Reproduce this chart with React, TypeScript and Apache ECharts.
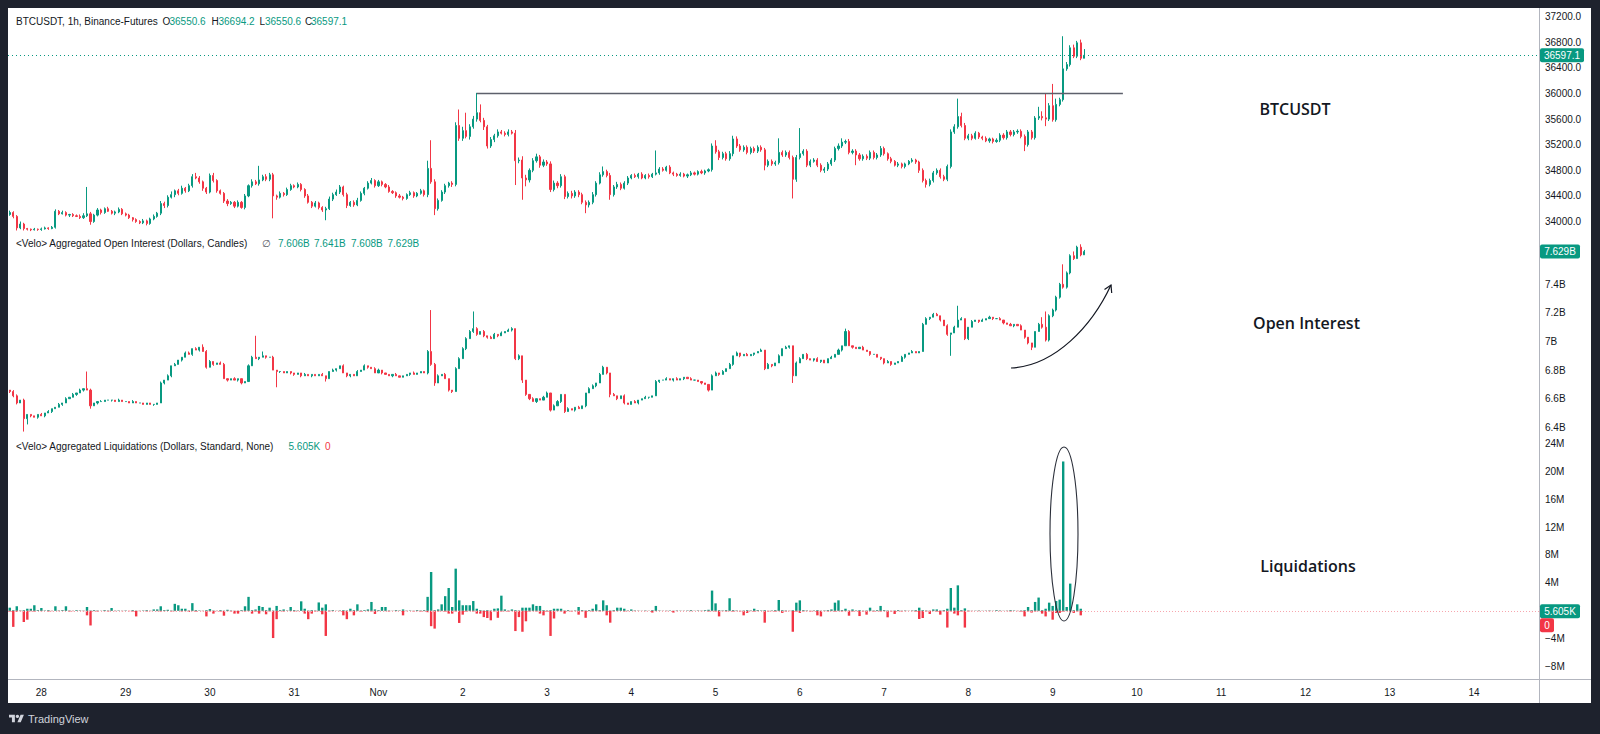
import React, { useEffect, useRef } from "react";
import * as echarts from "echarts";

// ---------- time axis ----------
const FIRST_HOUR_UTC = Date.UTC(2023, 9, 27, 15); // first hourly candle
const SLOT_COUNT = 436; // hourly slots shown on the time axis (to Nov 14)
const MONTHS = ["Jan", "Feb", "Mar", "Apr", "May", "Jun", "Jul", "Aug", "Sep", "Oct", "Nov", "Dec"];

// ---------- BTCUSDT hourly closes (open = previous close) ----------
const PRICE_OPEN_FIRST = 34110;
const P_OCT27 = [34140, 34080, 33900, 33960, 33890, 33880, 33870, 33880, 33875];
const P_OCT28 = [33885, 33900, 33890, 33910, 34160, 34120, 34140, 34100, 34110, 34090, 34080, 34060, 34090, 34120, 34000, 34100, 34180, 34140, 34200, 34160, 34130, 34150, 34190, 34120];
const P_OCT29 = [34100, 34060, 34030, 34000, 33980, 34010, 33970, 34040, 34080, 34130, 34280, 34250, 34380, 34420, 34480, 34440, 34520, 34480, 34560, 34700, 34680, 34620, 34520, 34460];
const P_OCT30 = [34720, 34640, 34480, 34440, 34320, 34280, 34300, 34240, 34300, 34220, 34400, 34560, 34620, 34590, 34650, 34700, 34660, 34730, 34400, 34380, 34440, 34420, 34500, 34560];
const P_OCT31 = [34540, 34580, 34500, 34400, 34300, 34240, 34290, 34220, 34180, 34200, 34350, 34420, 34460, 34540, 34420, 34250, 34300, 34260, 34330, 34440, 34520, 34600, 34640, 34560];
const P_NOV1 = [34620, 34580, 34540, 34470, 34450, 34400, 34380, 34360, 34420, 34450, 34400, 34440, 34480, 34420, 34830, 34620, 34200, 34330, 34460, 34560, 34600, 34580, 35500, 35300];
const P_NOV2 = [35420, 35330, 35480, 35600, 35700, 35580, 35480, 35180, 35280, 35340, 35400, 35380, 35360, 35400, 35380, 34950, 34960, 34680, 34650, 34800, 34950, 35010, 34880, 34930];
const P_NOV3 = [34900, 34500, 34600, 34560, 34700, 34390, 34440, 34400, 34460, 34420, 34300, 34260, 34300, 34420, 34600, 34730, 34780, 34720, 34420, 34540, 34580, 34520, 34600, 34680];
const P_NOV4 = [34720, 34700, 34740, 34680, 34720, 34700, 34740, 34760, 34820, 34800, 34850, 34760, 34740, 34720, 34740, 34710, 34730, 34760, 34740, 34780, 34760, 34790, 34810, 35180];
const P_NOV5 = [35090, 35000, 35060, 34980, 35060, 35290, 35180, 35120, 35160, 35080, 35140, 35100, 35160, 35120, 34880, 34940, 34900, 34920, 35080, 35040, 35080, 35000, 34660, 35000];
const P_NOV6 = [35060, 35100, 34880, 34940, 34960, 34880, 34800, 34820, 34900, 34960, 35140, 35180, 35240, 35250, 35080, 35100, 35040, 34980, 35020, 34990, 35080, 35000, 35040, 35140];
const P_NOV7 = [35060, 34980, 34940, 34880, 34900, 34860, 34900, 34940, 34960, 34930, 34800, 34640, 34580, 34640, 34760, 34800, 34700, 34660, 34860, 35400, 35480, 35640, 35500, 35300];
const P_NOV8 = [35340, 35300, 35380, 35320, 35300, 35260, 35290, 35250, 35270, 35350, 35310, 35400, 35360, 35400, 35410, 35330, 35200, 35400, 35310, 35617, 35642, 35620, 35600, 35810];
const P_NOV9 = [35590, 35830, 35904, 36385, 36452, 36714, 36583, 36792, 36550.6, 36597.1];

// upper / lower wick length, in $10 units
const PU_OCT27 = [3, 2, 2, 4, 2, 1, 1, 2, 1];
const PU_OCT28 = [2, 2, 1, 2, 3, 2, 3, 2, 1, 2, 2, 3, 4, 42, 3, 2, 3, 2, 2, 3, 2, 2, 3, 2];
const PU_OCT29 = [2, 2, 1, 2, 2, 3, 2, 2, 3, 2, 4, 3, 3, 5, 2, 3, 4, 2, 3, 4, 6, 3, 2, 2];
const PU_OCT30 = [3, 4, 2, 2, 2, 3, 2, 2, 3, 2, 3, 2, 4, 3, 22, 3, 4, 3, 3, 2, 3, 2, 3, 3];
const PU_OCT31 = [2, 3, 2, 2, 3, 2, 3, 2, 2, 3, 4, 3, 4, 3, 2, 3, 2, 3, 4, 3, 2, 3, 4, 2];
const PU_NOV1 = [3, 2, 2, 3, 2, 2, 3, 2, 2, 3, 2, 2, 3, 2, 12, 44, 4, 3, 3, 3, 2, 3, 5, 25];
const PU_NOV2 = [6, 28, 4, 5, 31, 13, 4, 3, 4, 3, 4, 3, 3, 4, 3, 5, 4, 6, 5, 3, 4, 5, 3, 4];
const PU_NOV3 = [3, 4, 4, 3, 4, 3, 3, 4, 3, 3, 3, 3, 3, 4, 3, 4, 8, 3, 4, 3, 4, 3, 3, 3];
const PU_NOV4 = [2, 3, 2, 3, 2, 3, 2, 35, 3, 3, 2, 3, 2, 2, 3, 2, 2, 3, 2, 2, 3, 2, 2, 4];
const PU_NOV5 = [9, 3, 3, 3, 4, 5, 4, 3, 3, 3, 3, 3, 3, 3, 3, 3, 3, 3, 22, 3, 3, 3, 3, 4];
const PU_NOV6 = [40, 3, 3, 3, 3, 3, 3, 3, 3, 3, 3, 4, 6, 3, 4, 3, 3, 3, 3, 3, 3, 3, 3, 4];
const PU_NOV7 = [3, 2, 3, 2, 3, 2, 2, 2, 3, 2, 2, 3, 3, 3, 3, 3, 3, 3, 3, 4, 4, 28, 6, 4];
const PU_NOV8 = [3, 3, 3, 2, 2, 3, 2, 2, 3, 3, 3, 3, 3, 3, 3, 3, 3, 3, 3, 3, 15, 8, 38, 4];
const PU_NOV9 = [34, 9, 3, 51, 4, 4, 5, 3, 5, 9.71];

const PD_OCT27 = [2, 3, 4, 2, 3, 2, 2, 1, 2];
const PD_OCT28 = [2, 1, 2, 1, 2, 2, 1, 2, 3, 2, 1, 2, 2, 2, 5, 2, 2, 3, 2, 1, 2, 3, 2, 2];
const PD_OCT29 = [2, 2, 3, 2, 2, 2, 3, 2, 2, 2, 3, 4, 3, 2, 4, 3, 2, 3, 2, 3, 2, 3, 4, 3];
const PD_OCT30 = [2, 3, 3, 2, 3, 4, 2, 3, 2, 2, 3, 2, 3, 2, 3, 2, 3, 3, 35, 4, 2, 3, 2, 2];
const PD_OCT31 = [2, 2, 3, 3, 2, 3, 2, 3, 3, 16, 2, 3, 2, 3, 3, 4, 2, 3, 2, 2, 3, 2, 2, 3];
const PD_NOV1 = [2, 3, 2, 2, 2, 3, 2, 3, 2, 2, 3, 2, 2, 3, 4, 3, 10, 3, 2, 3, 3, 4, 3, 4];
const PD_NOV2 = [4, 3, 5, 3, 4, 3, 5, 4, 3, 4, 3, 2, 3, 3, 2, 38, 4, 34, 10, 4, 3, 3, 4, 3];
const PD_NOV3 = [3, 4, 3, 4, 3, 4, 3, 4, 3, 4, 3, 13, 4, 3, 3, 2, 3, 3, 8, 3, 3, 3, 2, 3];
const PD_NOV4 = [2, 2, 3, 2, 2, 3, 2, 2, 3, 2, 2, 2, 3, 2, 2, 2, 3, 2, 2, 2, 2, 3, 2, 3];
const PD_NOV5 = [3, 4, 3, 3, 3, 4, 3, 3, 3, 3, 3, 3, 3, 3, 8, 3, 3, 3, 3, 3, 3, 3, 30, 4];
const PD_NOV6 = [3, 3, 3, 3, 2, 3, 3, 4, 3, 3, 3, 3, 3, 3, 3, 3, 16, 3, 3, 3, 3, 3, 3, 3];
const PD_NOV7 = [3, 3, 3, 2, 3, 3, 3, 2, 2, 3, 4, 3, 5, 3, 3, 3, 3, 3, 3, 3, 3, 3, 3, 3];
const PD_NOV8 = [3, 3, 2, 3, 3, 2, 3, 3, 2, 3, 3, 3, 3, 3, 3, 3, 10, 3, 3, 3, 3, 4, 11, 3];
const PD_NOV9 = [3, 3, 3, 3, 3, 3, 3, 3, 3, 0];

// ---------- Aggregated open interest, hourly closes (billion $) ----------
const OI_OPEN_FIRST = 6.66;
const OI_OCT27 = [6.65, 6.62, 6.57, 6.59, 6.46, 6.49, 6.48, 6.47, 6.49];
const OI_OCT28 = [6.48, 6.5, 6.51, 6.53, 6.54, 6.56, 6.57, 6.6, 6.61, 6.63, 6.64, 6.66, 6.67, 6.66, 6.55, 6.57, 6.58, 6.58, 6.59, 6.59, 6.59, 6.58, 6.59, 6.58];
const OI_OCT29 = [6.58, 6.57, 6.58, 6.57, 6.57, 6.56, 6.57, 6.56, 6.56, 6.57, 6.71, 6.73, 6.76, 6.83, 6.84, 6.87, 6.89, 6.92, 6.91, 6.95, 6.94, 6.96, 6.93, 6.82];
const OI_OCT30 = [6.86, 6.84, 6.85, 6.84, 6.74, 6.73, 6.74, 6.73, 6.74, 6.71, 6.72, 6.83, 6.89, 6.88, 6.89, 6.9, 6.89, 6.89, 6.8, 6.79, 6.79, 6.78, 6.79, 6.78];
const OI_OCT31 = [6.77, 6.78, 6.76, 6.77, 6.76, 6.77, 6.76, 6.77, 6.76, 6.74, 6.79, 6.8, 6.81, 6.83, 6.78, 6.76, 6.77, 6.76, 6.79, 6.8, 6.83, 6.82, 6.81, 6.78];
const OI_NOV1 = [6.8, 6.78, 6.77, 6.76, 6.77, 6.76, 6.75, 6.76, 6.77, 6.78, 6.77, 6.78, 6.79, 6.78, 6.93, 6.84, 6.71, 6.76, 6.77, 6.74, 6.66, 6.65, 6.81, 6.88];
const OI_NOV2 = [6.95, 7.02, 7.07, 7.09, 7.05, 7.07, 7.04, 7.03, 7.02, 7.05, 7.04, 7.06, 7.07, 7.08, 7.09, 6.88, 6.9, 6.73, 6.63, 6.6, 6.58, 6.6, 6.59, 6.61];
const OI_NOV3 = [6.64, 6.52, 6.55, 6.58, 6.63, 6.51, 6.53, 6.52, 6.54, 6.53, 6.55, 6.64, 6.67, 6.69, 6.71, 6.77, 6.82, 6.78, 6.63, 6.62, 6.6, 6.62, 6.57, 6.56];
const OI_NOV4 = [6.58, 6.57, 6.59, 6.6, 6.61, 6.61, 6.62, 6.72, 6.73, 6.73, 6.74, 6.73, 6.74, 6.73, 6.74, 6.75, 6.74, 6.73, 6.73, 6.72, 6.71, 6.7, 6.66, 6.76];
const OI_NOV5 = [6.78, 6.77, 6.79, 6.81, 6.84, 6.9, 6.92, 6.9, 6.91, 6.9, 6.91, 6.92, 6.93, 6.94, 6.81, 6.84, 6.83, 6.85, 6.9, 6.95, 6.96, 6.97, 6.76, 6.85];
const OI_NOV6 = [6.88, 6.91, 6.88, 6.87, 6.88, 6.86, 6.87, 6.85, 6.88, 6.89, 6.91, 6.94, 6.97, 7.07, 6.97, 6.96, 6.95, 6.96, 6.94, 6.93, 6.91, 6.91, 6.89, 6.88];
const OI_NOV7 = [6.85, 6.86, 6.84, 6.85, 6.86, 6.89, 6.91, 6.92, 6.93, 6.92, 6.93, 7.12, 7.16, 7.17, 7.19, 7.18, 7.15, 7.11, 7.05, 7.06, 7.1, 7.15, 7.16, 7.02];
const OI_NOV8 = [7.1, 7.14, 7.15, 7.14, 7.15, 7.16, 7.17, 7.16, 7.16, 7.15, 7.13, 7.12, 7.11, 7.12, 7.11, 7.08, 7.03, 6.99, 6.96, 7.07, 7.12, 7.1, 7.01, 7.18];
const OI_NOV9 = [7.22, 7.31, 7.4, 7.38, 7.48, 7.6, 7.58, 7.66, 7.606, 7.629];

// OI wick lengths, in 0.01B units
const OU_OCT27 = [0, 1, 1, 0, 1, 0, 0, 0, 0];
const OU_OCT28 = [1, 0, 1, 0, 0, 1, 0, 1, 0, 1, 0, 1, 0, 12, 1, 0, 0, 1, 0, 0, 0, 0, 1, 0];
const OU_OCT29 = [0, 0, 1, 0, 0, 0, 0, 0, 0, 0, 1, 0, 1, 0, 1, 0, 0, 1, 1, 0, 1, 0, 2, 1];
const OU_OCT30 = [1, 0, 0, 1, 1, 0, 0, 1, 0, 0, 0, 1, 1, 15, 0, 3, 0, 0, 1, 0, 0, 0, 0, 0];
const OU_OCT31 = [0, 0, 0, 1, 0, 0, 0, 0, 1, 0, 0, 1, 0, 0, 1, 0, 0, 0, 1, 0, 1, 0, 0, 1];
const OU_NOV1 = [1, 0, 0, 0, 0, 1, 0, 0, 0, 0, 1, 0, 0, 0, 1, 29, 1, 1, 0, 1, 0, 0, 1, 1];
const OU_NOV2 = [1, 1, 1, 12, 1, 0, 1, 0, 1, 1, 0, 1, 0, 1, 1, 0, 1, 0, 0, 0, 1, 0, 0, 1];
const OU_NOV3 = [1, 0, 1, 1, 0, 0, 1, 0, 0, 1, 0, 0, 1, 1, 0, 1, 1, 0, 0, 1, 0, 0, 1, 0];
const OU_NOV4 = [0, 1, 0, 0, 1, 0, 0, 1, 0, 0, 1, 0, 0, 1, 0, 0, 0, 1, 0, 0, 0, 0, 0, 1];
const OU_NOV5 = [1, 0, 1, 0, 1, 0, 1, 0, 0, 1, 0, 0, 0, 1, 0, 1, 0, 0, 1, 0, 1, 0, 0, 1];
const OU_NOV6 = [1, 0, 1, 0, 0, 1, 0, 0, 0, 1, 0, 1, 0, 2, 1, 0, 0, 0, 1, 0, 0, 0, 0, 0];
const OU_NOV7 = [0, 1, 0, 0, 0, 1, 0, 0, 1, 0, 0, 1, 1, 0, 1, 1, 0, 0, 1, 0, 1, 10, 1, 0];
const OU_NOV8 = [0, 1, 0, 0, 1, 0, 1, 0, 0, 1, 0, 0, 1, 0, 0, 1, 0, 0, 0, 0, 1, 5, 11, 1];
const OU_NOV9 = [1, 1, 1, 14, 1, 1, 3, 1, 2, 1.2];

const OD_OCT27 = [1, 1, 1, 0, 9, 4, 1, 0, 1];
const OD_OCT28 = [0, 1, 0, 1, 0, 0, 1, 0, 0, 0, 1, 0, 1, 0, 2, 0, 1, 0, 0, 0, 1, 0, 0, 0];
const OD_OCT29 = [0, 0, 0, 0, 0, 0, 0, 0, 1, 0, 0, 1, 0, 1, 0, 0, 1, 0, 0, 1, 0, 1, 0, 1];
const OD_OCT30 = [0, 1, 0, 0, 0, 1, 0, 0, 1, 1, 0, 0, 0, 0, 1, 0, 1, 0, 0, 11, 1, 0, 0, 1];
const OD_OCT31 = [1, 0, 1, 0, 0, 1, 0, 0, 0, 2, 0, 0, 1, 0, 0, 1, 1, 0, 0, 0, 0, 1, 0, 0];
const OD_NOV1 = [0, 1, 0, 0, 1, 0, 0, 0, 0, 1, 0, 0, 0, 0, 1, 1, 2, 0, 0, 0, 1, 1, 0, 0];
const OD_NOV2 = [0, 1, 0, 1, 1, 0, 1, 1, 0, 0, 1, 0, 0, 0, 1, 1, 1, 2, 1, 1, 0, 1, 0, 0];
const OD_NOV3 = [0, 1, 0, 0, 1, 1, 0, 0, 1, 0, 0, 1, 0, 0, 1, 0, 0, 1, 2, 0, 1, 0, 1, 0];
const OD_NOV4 = [0, 0, 1, 0, 0, 1, 0, 0, 1, 0, 0, 0, 1, 0, 0, 1, 0, 0, 0, 0, 1, 0, 1, 0];
const OD_NOV5 = [0, 1, 0, 0, 0, 1, 0, 1, 0, 0, 0, 1, 0, 0, 1, 0, 1, 0, 0, 0, 0, 1, 5, 0];
const OD_NOV6 = [0, 0, 1, 0, 1, 0, 1, 0, 0, 0, 0, 0, 1, 0, 0, 1, 0, 0, 0, 0, 1, 0, 0, 1];
const OD_NOV7 = [1, 0, 1, 0, 0, 0, 1, 0, 0, 0, 0, 0, 0, 1, 0, 0, 1, 0, 1, 15, 0, 0, 0, 1];
const OD_NOV8 = [1, 0, 0, 1, 0, 0, 0, 1, 0, 0, 1, 0, 0, 1, 0, 0, 1, 1, 2, 0, 0, 1, 1, 1];
const OD_NOV9 = [1, 1, 1, 1, 1, 1, 1, 0, 1, 0];

// ---------- Aggregated liquidations (million $), up = green, down = red ----------
const LG_OCT27 = [0.45, 0.1, 0.65, 0.05, 0.1, 0.3, 0.3, 0.8, 0.1];
const LG_OCT28 = [0.4, 0.05, 0.1, 0.02, 0.65, 0.05, 0.1, 0.65, 0.05, 0.02, 0.1, 0.05, 0.03, 0.55, 0.05, 0.1, 0.05, 0.02, 0.1, 0.05, 0.4, 0.03, 0.05, 0.02];
const LG_OCT29 = [0.05, 0.02, 0.1, 0.03, 0.02, 0.05, 0.1, 0.02, 0.2, 0.2, 0.65, 0.1, 0.15, 0.05, 1.0, 0.8, 0.3, 0.3, 0.05, 1.1, 0.1, 0.05, 0.02, 0.1];
const LG_OCT30 = [0.25, 0.05, 0.02, 0.1, 0.03, 0.15, 0.05, 0.02, 0.03, 0.1, 0.65, 2.0, 0.1, 0.2, 0.7, 0.55, 0.1, 0.45, 0.05, 0.7, 0.1, 0.2, 0.05, 0.55];
const LG_OCT31 = [0.1, 0.05, 1.36, 0.3, 0.05, 0.1, 0.05, 1.2, 0.45, 0.93, 0.05, 0.1, 0.02, 0.05, 0.1, 0.05, 0.3, 0.1, 0.93, 0.05, 0.1, 0.2, 1.27, 0.2];
const LG_NOV1 = [0.1, 0.55, 0.55, 0.05, 0.02, 0.1, 0.05, 0.2, 0.03, 0.05, 0.02, 0.1, 0.05, 0.1, 2.0, 5.56, 0.1, 0.2, 0.93, 2.1, 3.27, 0.55, 6.04, 1.5];
const LG_NOV2 = [0.8, 0.8, 0.8, 1.4, 0.3, 0.1, 0.05, 0.1, 0.05, 0.3, 0.35, 2.17, 0.2, 0.05, 0.2, 0.1, 0.05, 0.45, 0.45, 0.45, 0.93, 0.7, 0.7, 0.1];
const LG_NOV3 = [0.05, 0.1, 0.3, 0.3, 0.3, 0.05, 0.1, 0.02, 0.05, 0.55, 0.1, 0.05, 0.1, 0.3, 0.93, 0.1, 1.5, 0.8, 0.05, 0.1, 0.45, 0.45, 0.3, 0.05];
const LG_NOV4 = [0.2, 0.05, 0.03, 0.02, 0.05, 0.02, 0.1, 0.7, 0.05, 0.02, 0.03, 0.05, 0.02, 0.05, 0.03, 0.02, 0.05, 0.1, 0.02, 0.05, 0.03, 0.1, 0.15, 2.9];
const LG_NOV5 = [1.07, 0.1, 0.05, 0.1, 1.8, 0.1, 0.05, 0.02, 0.05, 0.1, 0.05, 0.3, 0.1, 0.05, 0.1, 0.02, 0.05, 0.1, 1.55, 0.1, 0.05, 0.02, 0.1, 1.17];
const LG_NOV6 = [1.5, 0.1, 0.05, 0.02, 0.05, 0.1, 0.03, 0.05, 0.1, 0.2, 1.17, 1.5, 0.1, 0.3, 0.05, 0.2, 0.05, 0.1, 0.03, 0.05, 0.45, 0.05, 0.1, 0.7];
const LG_NOV7 = [0.1, 0.05, 0.02, 0.05, 0.1, 0.03, 0.05, 0.02, 0.05, 0.1, 0.45, 0.1, 0.05, 0.03, 0.2, 0.2, 0.05, 0.1, 0.3, 3.27, 0.45, 3.65, 0.1, 0.35];
const LG_NOV8 = [0.05, 0.02, 0.03, 0.05, 0.02, 0.03, 0.05, 0.02, 0.1, 0.05, 0.02, 0.03, 0.1, 0.05, 0.02, 0.05, 0.1, 0.55, 0.1, 1.27, 1.9, 0.1, 0.3, 1.17];
const LG_NOV9 = [0.7, 1.4, 1.6, 21.4, 0.55, 3.9, 0.1, 0.93, 0.3, 0.005605];

const LR_OCT27 = [0.1, 2.3, 0.15, 0.05, 1.6, 1.27, 0.05, 0.1, 0.02];
const LR_OCT28 = [0.05, 0.02, 0.1, 0.05, 0.02, 0.05, 0.03, 0.02, 0.1, 0.05, 0.02, 0.03, 0.05, 0.65, 2.1, 0.05, 0.1, 0.02, 0.05, 0.1, 0.03, 0.05, 0.02, 0.05];
const LR_OCT29 = [0.02, 0.05, 0.1, 0.8, 0.05, 0.02, 0.1, 0.05, 0.02, 0.05, 0.1, 0.05, 0.02, 0.1, 0.05, 0.02, 0.1, 0.05, 0.15, 0.05, 0.1, 0.02, 0.05, 0.8];
const LR_OCT30 = [0.1, 0.4, 0.05, 0.1, 0.7, 0.05, 0.1, 0.4, 0.4, 0.05, 0.1, 0.05, 0.4, 0.1, 0.4, 0.05, 0.5, 0.1, 3.9, 1.2, 0.05, 0.1, 0.02, 0.05];
const LR_OCT31 = [0.1, 0.05, 0.02, 0.4, 1.2, 0.4, 0.1, 0.05, 0.5, 3.6, 0.1, 0.05, 0.02, 0.05, 0.65, 1.2, 0.1, 0.65, 0.05, 0.1, 0.02, 0.05, 0.1, 0.45];
const LR_NOV1 = [0.05, 0.02, 0.05, 0.1, 0.02, 0.05, 0.03, 0.65, 0.05, 0.02, 0.1, 0.05, 0.1, 0.05, 0.2, 2.2, 2.55, 0.1, 0.05, 0.1, 0.4, 0.4, 0.1, 1.74];
const LR_NOV2 = [0.55, 0.1, 0.05, 0.1, 0.4, 0.4, 0.9, 1.03, 1.36, 0.1, 1.0, 0.1, 0.05, 0.1, 0.05, 2.9, 0.9, 3.0, 1.5, 0.1, 0.05, 0.1, 0.4, 0.65];
const LR_NOV3 = [0.1, 3.6, 1.1, 0.05, 0.1, 0.4, 0.05, 0.1, 0.05, 0.55, 0.1, 1.0, 0.05, 0.1, 0.05, 0.1, 0.05, 0.65, 1.7, 0.1, 0.05, 0.02, 0.1, 0.05];
const LR_NOV4 = [0.02, 0.05, 0.03, 0.02, 0.05, 0.02, 0.25, 0.05, 0.02, 0.03, 0.05, 0.02, 0.25, 0.05, 0.02, 0.03, 0.02, 0.05, 0.02, 0.03, 0.05, 0.02, 0.1, 0.05];
const LR_NOV5 = [0.1, 0.8, 0.05, 0.1, 0.05, 0.1, 0.05, 0.1, 0.65, 0.3, 0.05, 0.1, 0.05, 0.02, 1.7, 0.1, 0.05, 0.1, 0.05, 0.3, 0.1, 0.05, 3.0, 0.1];
const LR_NOV6 = [0.3, 0.1, 0.05, 0.1, 0.05, 0.65, 0.8, 0.05, 0.1, 0.05, 0.1, 0.05, 0.1, 0.05, 0.7, 0.1, 0.05, 0.75, 0.1, 0.55, 0.05, 0.1, 0.05, 0.1];
const LR_NOV7 = [0.05, 0.93, 0.1, 0.45, 0.05, 0.1, 0.05, 0.02, 0.05, 0.1, 1.17, 1.03, 0.1, 0.45, 0.05, 0.1, 0.55, 0.1, 2.4, 0.1, 0.4, 0.65, 0.1, 2.4];
const LR_NOV8 = [0.1, 0.05, 0.02, 0.05, 0.02, 0.03, 0.05, 0.02, 0.03, 0.05, 0.02, 0.05, 0.1, 0.02, 0.05, 0.1, 0.8, 0.1, 0.25, 0.1, 0.05, 0.4, 0.8, 0.1];
const LR_NOV9 = [1.27, 0.3, 0.3, 0.1, 0.05, 0.1, 0.3, 0.1, 0.65, 0];

// ---------- axis ticks & annotations ----------
const PRICE_TICKS = [34000, 34400, 34800, 35200, 35600, 36000, 36400, 36800, 37200];
const OI_TICKS = [6.4, 6.6, 6.8, 7.0, 7.2, 7.4];
const LIQ_TICKS = [-8, -4, 4, 8, 12, 16, 20, 24];
const LEVEL_PRICE = 36000;
const LEVEL_FROM_SLOT = 133;
const LEVEL_TO_SLOT = 317;
const LAST_PRICE = 36597.1;
const LAST_OI = 7.629;

const priceCloses = [P_OCT27, P_OCT28, P_OCT29, P_OCT30, P_OCT31, P_NOV1, P_NOV2, P_NOV3, P_NOV4, P_NOV5, P_NOV6, P_NOV7, P_NOV8, P_NOV9].flat();
const priceUp = [PU_OCT27, PU_OCT28, PU_OCT29, PU_OCT30, PU_OCT31, PU_NOV1, PU_NOV2, PU_NOV3, PU_NOV4, PU_NOV5, PU_NOV6, PU_NOV7, PU_NOV8, PU_NOV9].flat();
const priceDn = [PD_OCT27, PD_OCT28, PD_OCT29, PD_OCT30, PD_OCT31, PD_NOV1, PD_NOV2, PD_NOV3, PD_NOV4, PD_NOV5, PD_NOV6, PD_NOV7, PD_NOV8, PD_NOV9].flat();
const oiCloses = [OI_OCT27, OI_OCT28, OI_OCT29, OI_OCT30, OI_OCT31, OI_NOV1, OI_NOV2, OI_NOV3, OI_NOV4, OI_NOV5, OI_NOV6, OI_NOV7, OI_NOV8, OI_NOV9].flat();
const oiUp = [OU_OCT27, OU_OCT28, OU_OCT29, OU_OCT30, OU_OCT31, OU_NOV1, OU_NOV2, OU_NOV3, OU_NOV4, OU_NOV5, OU_NOV6, OU_NOV7, OU_NOV8, OU_NOV9].flat();
const oiDn = [OD_OCT27, OD_OCT28, OD_OCT29, OD_OCT30, OD_OCT31, OD_NOV1, OD_NOV2, OD_NOV3, OD_NOV4, OD_NOV5, OD_NOV6, OD_NOV7, OD_NOV8, OD_NOV9].flat();
const liqUp = [LG_OCT27, LG_OCT28, LG_OCT29, LG_OCT30, LG_OCT31, LG_NOV1, LG_NOV2, LG_NOV3, LG_NOV4, LG_NOV5, LG_NOV6, LG_NOV7, LG_NOV8, LG_NOV9].flat();
const liqDn = [LR_OCT27, LR_OCT28, LR_OCT29, LR_OCT30, LR_OCT31, LR_NOV1, LR_NOV2, LR_NOV3, LR_NOV4, LR_NOV5, LR_NOV6, LR_NOV7, LR_NOV8, LR_NOV9].flat();

function buildCandles(closes: number[], firstOpen: number, up: number[], dn: number[], unit: number) {
  return closes.map((c, i) => {
    const o = i === 0 ? firstOpen : closes[i - 1];
    return [o, c, Math.min(o, c) - dn[i] * unit, Math.max(o, c) + up[i] * unit];
  });
}

const categories = Array.from({ length: SLOT_COUNT }, (_, i) => {
  const d = new Date(FIRST_HOUR_UTC + i * 3600000);
  return `${d.getUTCMonth() + 1}-${d.getUTCDate()}-${d.getUTCHours()}`;
});

const GREEN = "#089981";
const RED = "#f23645";
const TXT = "#131722";
const FONT = "Liberation Sans";
const FRAME = "#1e222d";

function text(x: number, y: number, s: string, fill: string, size = 10, extra: any = {}) {
  return {
    type: "text",
    x,
    y,
    z: 50,
    style: { text: s, fill, fontSize: size, fontFamily: FONT, verticalAlign: "middle", align: "left", ...extra },
  };
}

function badge(x: number, yc: number, w: number, label: string, color: string) {
  return [
    { type: "rect", z: 60, shape: { x, y: yc - 7, width: w, height: 14, r: 2 }, style: { fill: color } },
    {
      type: "text",
      z: 61,
      x: x + w / 2,
      y: yc,
      style: { text: label, fill: "#ffffff", fontSize: 10, fontFamily: FONT, align: "center", verticalAlign: "middle" },
    },
  ];
}

export default function App() {
  const ref = useRef<HTMLDivElement>(null);

  useEffect(() => {
    if (!ref.current) return;
    echarts.graphic.registerShape(
      "tvlogo",
      echarts.graphic.extendPath("M14 22H7V11H0V4h14v18zM28 22h-8l7.5-18h8L28 22z", {})
    );
    const chart = echarts.init(ref.current, undefined, { renderer: "svg" });

    const priceData = buildCandles(priceCloses, PRICE_OPEN_FIRST, priceUp, priceDn, 10);
    const oiData = buildCandles(oiCloses, OI_OPEN_FIRST, oiUp, oiDn, 0.01);

    const hiddenX = (gridIndex: number) => ({
      type: "category",
      gridIndex,
      data: categories,
      boundaryGap: true,
      axisLine: { show: false },
      axisTick: { show: false },
      axisLabel: { show: false },
      splitLine: { show: false },
    });

    const yBase = (gridIndex: number, min: number, max: number, ticks: number[], fmt: (v: number) => string) => ({
      type: "value",
      gridIndex,
      position: "right",
      min,
      max,
      scale: true,
      splitLine: { show: false },
      axisLine: { show: false },
      axisTick: { show: false },
      axisLabel: {
        customValues: ticks,
        formatter: fmt,
        color: TXT,
        fontSize: 10,
        fontFamily: FONT,
        margin: 6,
        showMinLabel: true,
        showMaxLabel: true,
      },
    });

    const candleStyle = {
      color: GREEN,
      color0: RED,
      borderColor: GREEN,
      borderColor0: RED,
      borderWidth: 1,
    };

    const titleStyle = { align: "center", fontFamily: "Open Sans", fontWeight: 600 };

    const baseGraphics: any[] = [
      // frame
      { type: "rect", z: 100, shape: { x: 0, y: 0, width: 1600, height: 8 }, style: { fill: FRAME } },
      { type: "rect", z: 100, shape: { x: 0, y: 0, width: 8, height: 734 }, style: { fill: FRAME } },
      { type: "rect", z: 100, shape: { x: 1591, y: 0, width: 9, height: 734 }, style: { fill: FRAME } },
      { type: "rect", z: 100, shape: { x: 0, y: 703, width: 1600, height: 31 }, style: { fill: FRAME } },
      // scale borders
      { type: "line", z: 40, shape: { x1: 1539.5, y1: 8, x2: 1539.5, y2: 703 }, style: { stroke: "#b2b5be", lineWidth: 1 } },
      { type: "line", z: 40, shape: { x1: 8, y1: 679.5, x2: 1591, y2: 679.5 }, style: { stroke: "#b2b5be", lineWidth: 1 } },
      // price legend
      text(16, 21.5, "BTCUSDT, 1h, Binance-Futures", TXT),
      text(162.5, 21.5, "O", TXT),
      text(169.5, 21.5, "36550.6", GREEN),
      text(211.5, 21.5, "H", TXT),
      text(218.5, 21.5, "36694.2", GREEN),
      text(259.5, 21.5, "L", TXT),
      text(265, 21.5, "36550.6", GREEN),
      text(305, 21.5, "C", TXT),
      text(311, 21.5, "36597.1", GREEN),
      // OI legend
      text(16, 243.5, "<Velo> Aggregated Open Interest (Dollars, Candles)", TXT),
      text(262, 243.5, "\u2205", "#50535e"),
      text(278, 243.5, "7.606B", GREEN),
      text(314, 243.5, "7.641B", GREEN),
      text(351, 243.5, "7.608B", GREEN),
      text(387.5, 243.5, "7.629B", GREEN),
      // Liquidations legend
      text(16, 446, "<Velo> Aggregated Liquidations (Dollars, Standard, None)", TXT),
      text(288.5, 446, "5.605K", GREEN),
      text(325, 446, "0", RED),
      // pane titles
      text(1295, 109, "BTCUSDT", TXT, 16, titleStyle),
      text(1306.5, 323, "Open Interest", TXT, 16, titleStyle),
      text(1308, 566, "Liquidations", TXT, 16, titleStyle),
      // OI arrow
      {
        type: "bezierCurve",
        z: 45,
        shape: { x1: 1011, y1: 368, cpx1: 1055, cpy1: 366, cpx2: 1092, cpy2: 326, x2: 1111, y2: 285 },
        style: { stroke: TXT, lineWidth: 1.2, fill: "none" },
      },
      {
        type: "polyline",
        z: 45,
        shape: { points: [[1104.5, 289.6], [1111, 285], [1111.7, 293]] },
        style: { stroke: TXT, lineWidth: 1.2, fill: "none" },
      },
      // ellipse round the liquidation spike
      {
        type: "ellipse",
        z: 45,
        shape: { cx: 1064, cy: 534, rx: 14, ry: 87 },
        style: { stroke: "#2a2e39", lineWidth: 1.1, fill: "none" },
      },
      // TradingView footer
      { type: "tvlogo", z: 110, x: 9, y: 713, scaleX: 0.42, scaleY: 0.42, style: { fill: "#d1d4dc" } },
      { type: "circle", z: 110, shape: { cx: 17.4, cy: 716.4, r: 1.7 }, style: { fill: "#d1d4dc" } },
      { ...text(28, 718.5, "TradingView", "#d1d4dc", 11), z: 110 },
    ];

    const option: any = {
      animation: false,
      backgroundColor: "#ffffff",
      grid: [
        { left: 8, right: 61, top: 8, height: 226 },
        { left: 8, right: 61, top: 234, height: 202 },
        { left: 8, right: 61, top: 436, height: 243 },
      ],
      xAxis: [
        hiddenX(0),
        hiddenX(1),
        {
          type: "category",
          gridIndex: 2,
          data: categories,
          boundaryGap: true,
          axisLine: { show: false },
          axisTick: { show: false },
          splitLine: { show: false },
          axisLabel: {
            interval: (_: number, v: string) => v.endsWith("-0"),
            formatter: (v: string) => {
              const [m, d] = v.split("-");
              return d === "1" ? MONTHS[Number(m) - 1] : d;
            },
            color: TXT,
            fontSize: 10,
            fontFamily: FONT,
            margin: 8,
          },
        },
      ],
      yAxis: [
        yBase(0, 33805, 37336, PRICE_TICKS, (v) => v.toFixed(1)),
        yBase(1, 6.339, 7.752, OI_TICKS, (v) => `${Number(v.toFixed(1))}B`),
        yBase(2, -9.77, 25.05, LIQ_TICKS, (v) => (v < 0 ? `\u2212${-v}M` : `${v}M`)),
      ],
      series: [
        {
          type: "candlestick",
          xAxisIndex: 0,
          yAxisIndex: 0,
          data: priceData,
          barWidth: 1.6,
          itemStyle: candleStyle,
          markLine: {
            silent: true,
            symbol: ["none", "none"],
            label: { show: false },
            lineStyle: { color: GREEN, type: [1, 3], width: 1 },
            data: [{ yAxis: LAST_PRICE }],
          },
        },
        {
          type: "line",
          xAxisIndex: 0,
          yAxisIndex: 0,
          data: [
            [LEVEL_FROM_SLOT, LEVEL_PRICE],
            [LEVEL_TO_SLOT, LEVEL_PRICE],
          ],
          symbol: "none",
          lineStyle: { color: "#5d606b", width: 1.5 },
          z: 5,
        },
        {
          type: "candlestick",
          xAxisIndex: 1,
          yAxisIndex: 1,
          data: oiData,
          barWidth: 1.6,
          itemStyle: candleStyle,
        },
        {
          type: "bar",
          xAxisIndex: 2,
          yAxisIndex: 2,
          data: liqUp,
          barWidth: 2.4,
          barGap: "-100%",
          itemStyle: { color: GREEN },
        },
        {
          type: "bar",
          xAxisIndex: 2,
          yAxisIndex: 2,
          data: liqDn.map((v) => -v),
          barWidth: 2.4,
          barGap: "-100%",
          itemStyle: { color: RED },
          markLine: {
            silent: true,
            symbol: ["none", "none"],
            label: { show: false },
            lineStyle: { color: "#f7a6ae", type: [1, 2], width: 1 },
            data: [{ yAxis: 0 }],
          },
        },
      ],
      graphic: baseGraphics,
    };

    chart.setOption(option);

    const yPrice = chart.convertToPixel({ yAxisIndex: 0 } as any, LAST_PRICE) as number;
    const yOi = chart.convertToPixel({ yAxisIndex: 1 } as any, LAST_OI) as number;
    const yZero = chart.convertToPixel({ yAxisIndex: 2 } as any, 0) as number;

    chart.setOption({
      graphic: [
        ...baseGraphics,
        ...badge(1540, yPrice, 44, "36597.1", GREEN),
        ...badge(1540, yOi, 40, "7.629B", GREEN),
        ...badge(1540, yZero + 0.5, 40, "5.605K", GREEN),
        ...badge(1540, yZero + 14.5, 14, "0", RED),
      ],
    });

    return () => chart.dispose();
  }, []);

  return <div ref={ref} style={{ position: "fixed", left: 0, top: 0, width: 1600, height: 734 }} />;
}
